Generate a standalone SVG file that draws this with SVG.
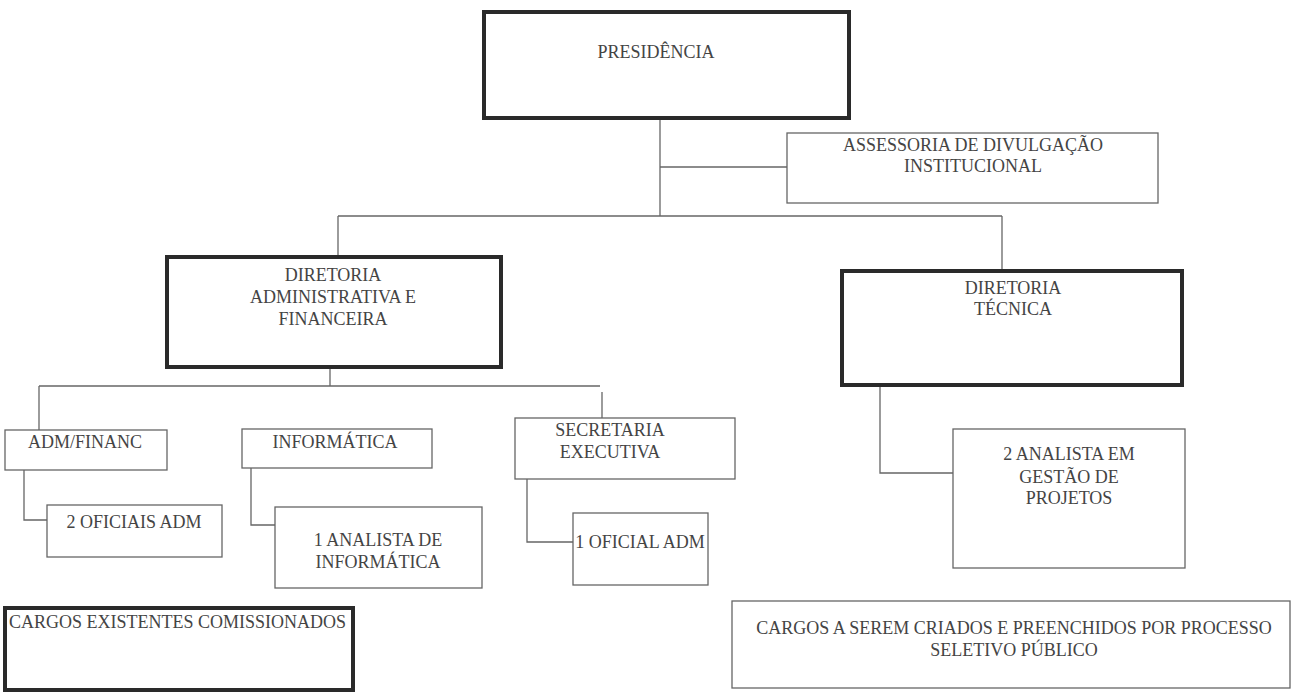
<svg xmlns="http://www.w3.org/2000/svg" width="1298" height="693" viewBox="0 0 1298 693">
<style>
.bg{fill:#fff}
.thick{fill:#fff;stroke:#2a2a2a;stroke-width:4}
.thin{fill:#fff;stroke:#666;stroke-width:1.3}
.c{fill:none;stroke:#666;stroke-width:1.3}
text{font-family:"Liberation Serif","Times New Roman",serif;font-size:18px;fill:#444}
.m{text-anchor:middle}
</style>
<rect class="bg" x="0" y="0" width="1298" height="693"/>
<g id="connectors">
<path class="c" d="M660 118V216"/>
<path class="c" d="M660 167H787"/>
<path class="c" d="M338 216H1002"/>
<path class="c" d="M338 216V257"/>
<path class="c" d="M1002 216V271"/>
<path class="c" d="M330 367V386"/>
<path class="c" d="M39 386H600"/>
<path class="c" d="M39 386V430"/>
<path class="c" d="M602 392V418"/>
<path class="c" d="M24 470V520H47"/>
<path class="c" d="M251 468V525H275"/>
<path class="c" d="M527 479V542H573"/>
<path class="c" d="M880 385V473H953"/>
</g>
<g id="presidencia">
<rect class="thick" x="484" y="12" width="365" height="106"/>
<text class="m" x="656" y="58">PRESIDÊNCIA</text>
</g>
<g id="assessoria">
<rect class="thin" x="787" y="133" width="371" height="70"/>
<text class="m" x="973" y="151">ASSESSORIA DE DIVULGAÇÃO</text>
<text class="m" x="973" y="172">INSTITUCIONAL</text>
</g>
<g id="diretoria-adm">
<rect class="thick" x="167" y="257" width="334" height="110"/>
<text class="m" x="333" y="281">DIRETORIA</text>
<text class="m" x="333" y="303">ADMINISTRATIVA E</text>
<text class="m" x="333" y="325">FINANCEIRA</text>
</g>
<g id="diretoria-tecnica">
<rect class="thick" x="842" y="271" width="340" height="114"/>
<text class="m" x="1013" y="294">DIRETORIA</text>
<text class="m" x="1013" y="315">TÉCNICA</text>
</g>
<g id="adm-financ">
<rect class="thin" x="5" y="430" width="162" height="40"/>
<text class="m" x="85" y="448">ADM/FINANC</text>
</g>
<g id="informatica">
<rect class="thin" x="242" y="429" width="190" height="39"/>
<text class="m" x="335" y="448">INFORMÁTICA</text>
</g>
<g id="secretaria">
<rect class="thin" x="515" y="418" width="220" height="61"/>
<text class="m" x="610" y="436">SECRETARIA</text>
<text class="m" x="610" y="458">EXECUTIVA</text>
</g>
<g id="oficiais-adm">
<rect class="thin" x="47" y="505" width="175" height="52"/>
<text class="m" x="134" y="528">2 OFICIAIS ADM</text>
</g>
<g id="analista-informatica">
<rect class="thin" x="275" y="507" width="207" height="81"/>
<text class="m" x="378" y="546">1 ANALISTA DE</text>
<text class="m" x="378" y="568">INFORMÁTICA</text>
</g>
<g id="oficial-adm">
<rect class="thin" x="573" y="513" width="135" height="72"/>
<text class="m" x="640" y="548">1 OFICIAL ADM</text>
</g>
<g id="analista-projetos">
<rect class="thin" x="953" y="429" width="232" height="139"/>
<text class="m" x="1069" y="460">2 ANALISTA EM</text>
<text class="m" x="1069" y="483">GESTÃO DE</text>
<text class="m" x="1069" y="504">PROJETOS</text>
</g>
<g id="legenda-existentes">
<rect class="thick" x="5" y="608" width="348" height="82"/>
<text x="9" y="628">CARGOS EXISTENTES COMISSIONADOS</text>
</g>
<g id="legenda-criados">
<rect class="thin" x="732" y="601" width="558" height="87"/>
<text class="m" x="1014" y="634">CARGOS A SEREM CRIADOS E PREENCHIDOS POR PROCESSO</text>
<text class="m" x="1014" y="656">SELETIVO PÚBLICO</text>
</g>
</svg>
